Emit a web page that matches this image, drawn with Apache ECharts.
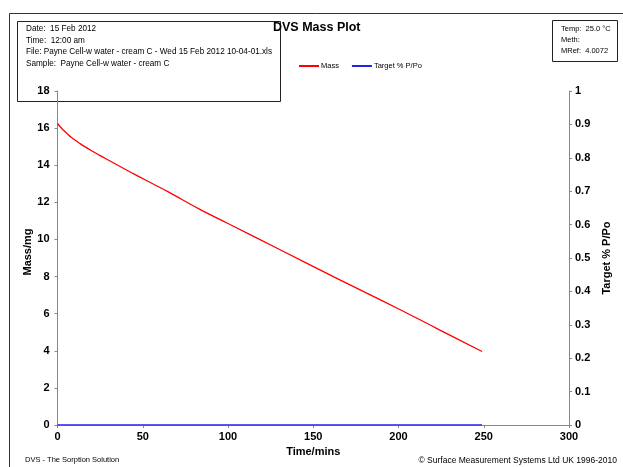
<!DOCTYPE html>
<html><head><meta charset="utf-8">
<script src="https://cdn.jsdelivr.net/npm/echarts@6/dist/echarts.min.js"></script>
<style>html,body{margin:0;padding:0;background:#fff}#c{width:623px;height:467px}</style>
</head><body><div id="c"></div>
<script>
const timeMins = [0, 2, 4, 6, 8, 10, 13, 16, 20, 25, 30, 37, 45, 55, 65, 83.5, 100, 130, 165, 190, 212, 224, 249];
const massMg   = [16.25, 16.03, 15.84, 15.67, 15.51, 15.37, 15.18, 15.0, 14.78, 14.52, 14.27, 13.92, 13.52, 13.04, 12.56, 11.62, 10.86, 9.47, 7.85, 6.72, 5.70, 5.13, 3.96];
const targetTime = [0, 249];
const targetPPo  = [0, 0];
const infoLines = ["Date:  15 Feb 2012", "Time:  12:00 am", "File: Payne Cell-w water - cream C - Wed 15 Feb 2012 10-04-01.xls", "Sample:  Payne Cell-w water - cream C"];
const condLines = ["Temp:  25.0 \u00B0C", "Meth:", "MRef:  4.0072"];

const chart = echarts.init(document.getElementById('c'));
const lab = {color:'#000', fontFamily:'Liberation Sans, Arial', fontWeight:'bold', fontSize:11};
const smallFont = '8.2px "Liberation Sans", Arial';
const graphics = [
  {type:'rect', shape:{x:9.5,y:13.5,width:640,height:480}, style:{fill:'none', stroke:'#333', lineWidth:1}, z:-1},
  {type:'rect', shape:{x:17.5,y:21.5,width:263,height:80}, style:{fill:'none', stroke:'#222', lineWidth:1}, z:-1},
  {type:'rect', shape:{x:552.5,y:20.5,width:65,height:41}, style:{fill:'#fff', stroke:'#222', lineWidth:1}, z:100},
  {type:'text', left:273, top:21, style:{text:'DVS Mass Plot', font:'bold 12.5px "Liberation Sans", Arial', fill:'#000'}, z:101},
  {type:'text', left:25, top:456, style:{text:'DVS - The Sorption Solution', font:'7.5px "Liberation Sans", Arial', fill:'#000'}, z:101},
  {type:'text', right:6, top:456, style:{text:'\u00A9 Surface Measurement Systems Ltd UK 1996-2010', font:'8.5px "Liberation Sans", Arial', fill:'#000'}, z:101},
  {type:'text', x:28, y:252, rotation:Math.PI/2, style:{text:'Mass/mg', font:'bold 11px "Liberation Sans", Arial', fill:'#000', align:'center', verticalAlign:'middle'}, z:101}
];
infoLines.forEach((t,i)=>graphics.push({type:'text', left:26, top:25+i*11.5, style:{text:t, font:smallFont, fill:'#000'}, z:101}));
condLines.forEach((t,i)=>graphics.push({type:'text', left:561, top:25+i*11, style:{text:t, font:'7.5px "Liberation Sans", Arial', fill:'#000'}, z:101}));

chart.setOption({
  animation:false,
  backgroundColor:'#fff',
  grid:{left:57.5, right:54, top:91, bottom:42, containLabel:false},
  legend:{top:57, left:294, itemWidth:20, itemHeight:2, itemGap:13, icon:'rect',
    textStyle:{fontSize:7.5, fontFamily:'Liberation Sans, Arial', color:'#000', padding:[0,0,0,-3]},
    data:['Mass','Target % P/Po']},
  xAxis:{type:'value', min:0, max:300, interval:50, name:'Time/mins', nameLocation:'middle', nameGap:20,
    nameTextStyle:lab, axisLabel:Object.assign({margin:6}, lab),
    axisLine:{onZero:false, lineStyle:{color:'#888'}}, axisTick:{show:true, length:3, inside:false, lineStyle:{color:'#888'}},
    splitLine:{show:false}},
  yAxis:[
    {type:'value', min:0, max:18, interval:2,
      axisLabel:Object.assign({margin:8}, lab),
      axisLine:{show:true, lineStyle:{color:'#888'}}, axisTick:{show:true, length:3, lineStyle:{color:'#888'}},
      splitLine:{show:false}},
    {type:'value', min:0, max:1, interval:0.1, position:'right', name:'Target % P/Po', nameLocation:'middle', nameGap:28,
      nameRotate:90, nameTextStyle:lab, axisLabel:Object.assign({margin:6}, lab),
      axisLine:{show:true, lineStyle:{color:'#888'}}, axisTick:{show:true, length:3, lineStyle:{color:'#888'}},
      splitLine:{show:false}}
  ],
  series:[
    {name:'Mass', type:'line', yAxisIndex:0, smooth:0.4, showSymbol:false, color:'#ff0000',
      lineStyle:{width:1.3, color:'#ff0000'}, data:timeMins.map((t,i)=>[t, massMg[i]]), z:3},
    {name:'Target % P/Po', type:'line', yAxisIndex:1, showSymbol:false, color:'#2222ee',
      lineStyle:{width:1.5, color:'#2222ee'}, data:targetTime.map((t,i)=>[t, targetPPo[i]]), z:4}
  ],
  graphic:graphics
});
</script></body></html>
